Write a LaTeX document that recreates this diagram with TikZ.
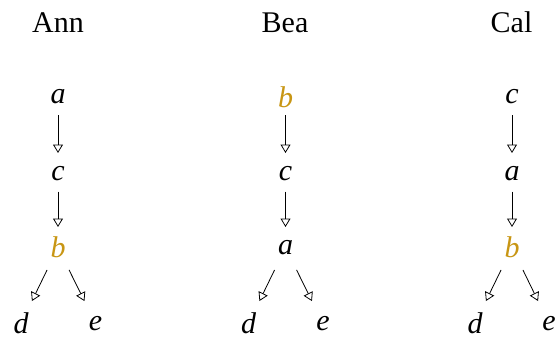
\documentclass[tikz,border=0pt]{standalone}
\usepackage{fontspec}
\setmainfont{Liberation Serif}
\usetikzlibrary{arrows.meta}
\definecolor{gold}{RGB}{200,150,20}
\tikzset{
  lbl/.style={inner sep=0pt, anchor=base, font=\fontsize{30}{36}\selectfont},
  v/.style={inner sep=0pt, font=\fontsize{30}{36}\selectfont\itshape},
  hl/.style={v, text=gold},
  arr/.style={line width=0.8pt, -{Triangle[open, length=8.5pt, width=10pt, line width=0.8pt]}},
  vert/.style={arr, shorten <=18pt, shorten >=20.5pt},
  slant/.style={arr, shorten <=25pt, shorten >=25pt}
}
\begin{document}
\begin{tikzpicture}[x=1pt, y=-1pt]
\useasboundingbox (0,0) rectangle (555,338);
% labels
\node[lbl] (ann) at (58,32) {Ann};
\node[lbl] (bea) at (285,32) {Bea};
\node[lbl] (cal) at (511.5,32) {Cal};
% Ann
\node[v]  (a1) at (58,97) {a};
\node[v]  (c1) at (58,173.5) {c};
\node[hl] (b1) at (58,247.5) {b};
\node[v]  (d1) at (21,323.5) {d};
\node[v]  (e1) at (95.5,323.5) {e};
% Bea
\node[hl] (b2) at (285.5,97) {b};
\node[v]  (c2) at (285.5,173.5) {c};
\node[v]  (a2) at (285.5,247.5) {a};
\node[v]  (d2) at (248.5,323.5) {d};
\node[v]  (e2) at (323,323.5) {e};
% Cal
\node[v]  (c3) at (512,97) {c};
\node[v]  (a3) at (512,173.5) {a};
\node[hl] (b3) at (512,247.5) {b};
\node[v]  (d3) at (475,323.5) {d};
\node[v]  (e3) at (549,323.5) {e};
% edges
\draw[vert] (a1.center) -- (c1.center);
\draw[vert] (c1.center) -- (b1.center);
\draw[slant] (b1.center) -- (d1.center);
\draw[slant] (b1.center) -- (e1.center);
\draw[vert] (b2.center) -- (c2.center);
\draw[vert] (c2.center) -- (a2.center);
\draw[slant] (a2.center) -- (d2.center);
\draw[slant] (a2.center) -- (e2.center);
\draw[vert] (c3.center) -- (a3.center);
\draw[vert] (a3.center) -- (b3.center);
\draw[slant] (b3.center) -- (d3.center);
\draw[slant] (b3.center) -- (e3.center);
\end{tikzpicture}
\end{document}
